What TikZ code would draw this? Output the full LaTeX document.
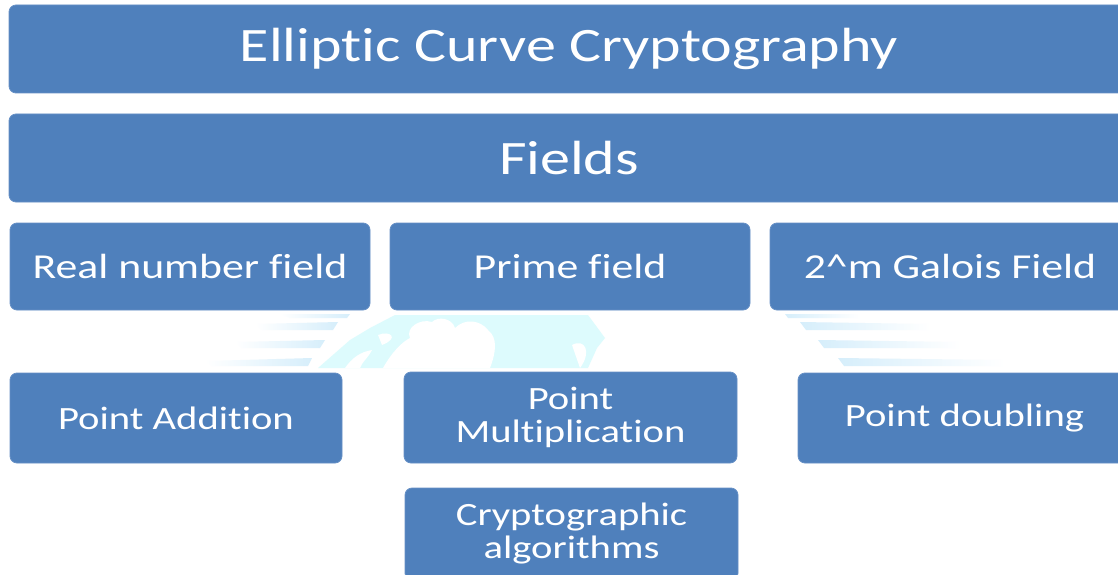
\documentclass[tikz,border=0pt]{standalone}
\usepackage{fontspec}
\setmainfont{Carlito}[FakeStretch=1.25, Ligatures=NoCommon]
\definecolor{boxblue}{HTML}{4F80BC}
\definecolor{boxedge}{HTML}{6690C6}
\definecolor{markcyan}{HTML}{DDFBFD}
\definecolor{streak}{HTML}{D6EEFB}
\tikzset{
  box/.style={fill=boxblue, draw=boxedge, line width=0.8pt, rounded corners=7pt, text=white, align=center},
  streakL/.style={left color=white, right color=streak, draw=none},
  streakR/.style={left color=streak, right color=white, draw=none}
}
\begin{document}
\begin{tikzpicture}[x=1pt, y=-1pt]
\useasboundingbox (0,0) rectangle (1118,575);
\fill[white] (0,0) rectangle (1118,575);

% faint emblem behind the middle rows
\fill[markcyan] (318,368) -- (350,340) -- (370,328) -- (395,315) -- (588,315) -- (605,338) -- (597,348) -- (588,368) -- cycle;
\fill[white] (383,368) .. controls (392,352) and (402,342) .. (410,338)
  .. controls (405,328) and (420,318) .. (432,322)
  .. controls (438,316) and (452,318) .. (455,328)
  .. controls (465,318) and (480,320) .. (488,330)
  .. controls (498,338) and (496,352) .. (490,368) -- cycle;
\fill[white] (345,368) .. controls (352,358) and (360,352) .. (372,350) .. controls (368,358) and (362,362) .. (360,368) -- cycle;
\fill[white] (378,335) .. controls (390,330) and (400,338) .. (382,345) -- cycle;
\fill[white] (572,345) .. controls (585,338) and (592,352) .. (580,368) -- cycle;
\shade[streakL] (280,314) -- (350,314) -- (347,318) -- (290,318) -- cycle;
\shade[streakL] (255,324) -- (338,322) -- (333,330) -- (262,330) -- cycle;
\shade[streakL] (235,342) -- (325,340) -- (320,348) -- (242,348) -- cycle;
\shade[streakL] (205,361) -- (312,358) -- (308,366) -- (212,366) -- cycle;
\shade[streakR] (785,314) -- (860,314) -- (860,318) -- (788,318) -- cycle;
\shade[streakR] (800,322) -- (930,324) -- (930,330) -- (806,330) -- cycle;
\shade[streakR] (818,340) -- (960,342) -- (960,348) -- (824,348) -- cycle;
\shade[streakR] (838,358) -- (1005,360) -- (1005,366) -- (844,366) -- cycle;

% boxes: top band, field row, operation row, algorithms
\node[box, minimum width=1120pt, minimum height=88pt, font=\fontsize{48}{52}\selectfont] (ecc) at (569,49) {Elliptic Curve Cryptography};
\node[box, minimum width=1120pt, minimum height=88pt, font=\fontsize{48}{52}\selectfont] (fields) at (569,158) {Fields};

\node[box, minimum width=360pt, minimum height=87pt, font=\fontsize{35}{38}\selectfont] (real) at (190,266.5) {Real number field};
\node[box, minimum width=360pt, minimum height=87pt, font=\fontsize{35}{38}\selectfont] (prime) at (570,266.5) {Prime field};
\node[box, minimum width=360pt, minimum height=87pt, font=\fontsize{35}{38}\selectfont] (galois) at (950,266.5) {2\^{}m Galois Field};

\node[box, minimum width=332pt, minimum height=90pt, font=\fontsize{32.5}{33}\selectfont] (add) at (176,418) {Point Addition};
\node[box, minimum width=333pt, minimum height=91pt, font=\fontsize{32.5}{33}\selectfont] (mult) at (570.5,417.5) {Point\\Multiplication};
\node[box, minimum width=333pt, minimum height=90pt, font=\fontsize{32.5}{33}\selectfont] (dbl) at (964.5,418) {Point doubling};

\node[box, minimum width=333pt, minimum height=92pt, font=\fontsize{32.5}{33}\selectfont] (algo) at (571.5,534) {Cryptographic\\algorithms};
\end{tikzpicture}
\end{document}
